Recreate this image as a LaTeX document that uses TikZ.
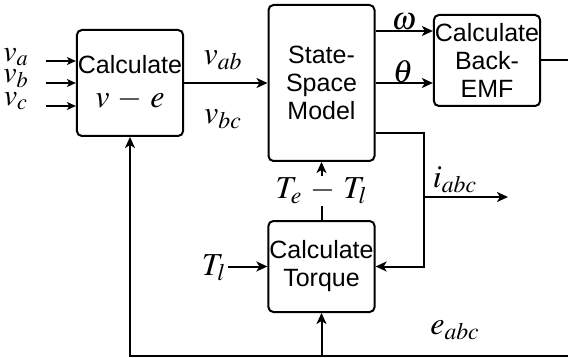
\documentclass[tikz,border=0pt]{standalone}
\usepackage{mathptmx}
\usepackage{fontspec}
\setmainfont{Liberation Sans}
\usetikzlibrary{arrows.meta, positioning}

\tikzset{
  block/.style={draw, line width=1pt, rounded corners=2.5pt, align=center,
    minimum width=53pt, inner sep=0.5pt, font=\fontsize{12.5}{14}\selectfont},
  sig/.style={line width=1pt},
  arr/.style={line width=1pt, -{Stealth[length=5.5pt,width=5pt,inset=1.5pt]}},
  thinarr/.style={line width=0.6pt, -{Stealth[length=4.5pt,width=4pt,inset=1.2pt]}},
  lab/.style={font=\fontsize{16}{18}\selectfont, inner sep=0.5pt},
  vlab/.style={font=\fontsize{15}{16}\selectfont, inner sep=0pt}
}

\begin{document}
\begin{tikzpicture}[x=0.5pt,y=-0.5pt]
\useasboundingbox (0,0) rectangle (568,358);

% Blocks
\node[block, minimum height=53pt] (calcve) at (130,83)
  {Calculate\\[3pt]{\fontsize{16}{18}\selectfont$v\,-\,e$}};
\node[block, minimum height=78pt] (ssm) at (321.5,83) {State-\\Space\\Model};
\node[block, minimum height=45.5pt] (bemf) at (487,60.5) {Calculate\\Back-\\EMF};
\node[block, minimum height=45.5pt] (torque) at (321.5,266.5) {Calculate\\Torque};

% Phase voltages in
\coordinate (ina) at (46,61);
\coordinate (inb) at (46,83);
\coordinate (inc) at (46,106);
\node[vlab] at (16,57) {$v_a$};
\node[vlab] at (16,79) {$v_b$};
\node[vlab] at (16,101) {$v_c$};
\draw[thinarr] (ina) -- (ina -| calcve.west);
\draw[thinarr] (inb) -- (inb -| calcve.west);
\draw[thinarr] (inc) -- (inc -| calcve.west);

% Line voltages
\draw[arr] (calcve) -- (ssm);
\node[lab] at (223,60) {$v_{ab}$};
\node[lab] at (223,119) {$v_{bc}$};

% Speed and angle
\draw[arr] ([yshift=26pt]ssm.east) -- ([yshift=26pt]ssm.east -| bemf.west);
\draw[arr] (ssm.east) -- (ssm.east -| bemf.west);
\node[lab] at (404,22) {$\omega$};
\node[lab] at (403,72) {$\theta$};
\coordinate (emfout) at (568,60.5);
\draw[sig] (bemf.east) -- (emfout);

% Currents
\coordinate (ibr) at (424,197);
\coordinate (iout) at (508,197);
\draw[arr] ([yshift=-25pt]ssm.east) -| (ibr) |- (torque.east);
\draw[arr] (ibr) -- (iout);
\node[lab] at (455,180) {$i_{abc}$};

% Torque
\draw[arr] (torque) -- node[lab, fill=white, inner sep=1pt] {$T_e\,-\,T_l$} (ssm);
\coordinate (tlin) at (228,266.5);
\node[lab] at (214,268) {$T_l$};
\draw[arr] (tlin) -- (torque.west);

% Back-EMF feedback
\coordinate (fb) at (568,356);
\draw[arr] (fb) -| (calcve.south);
\draw[arr] (torque.south |- fb) -- (torque.south);
\node[lab] at (455,330) {$e_{abc}$};
\end{tikzpicture}
\end{document}
